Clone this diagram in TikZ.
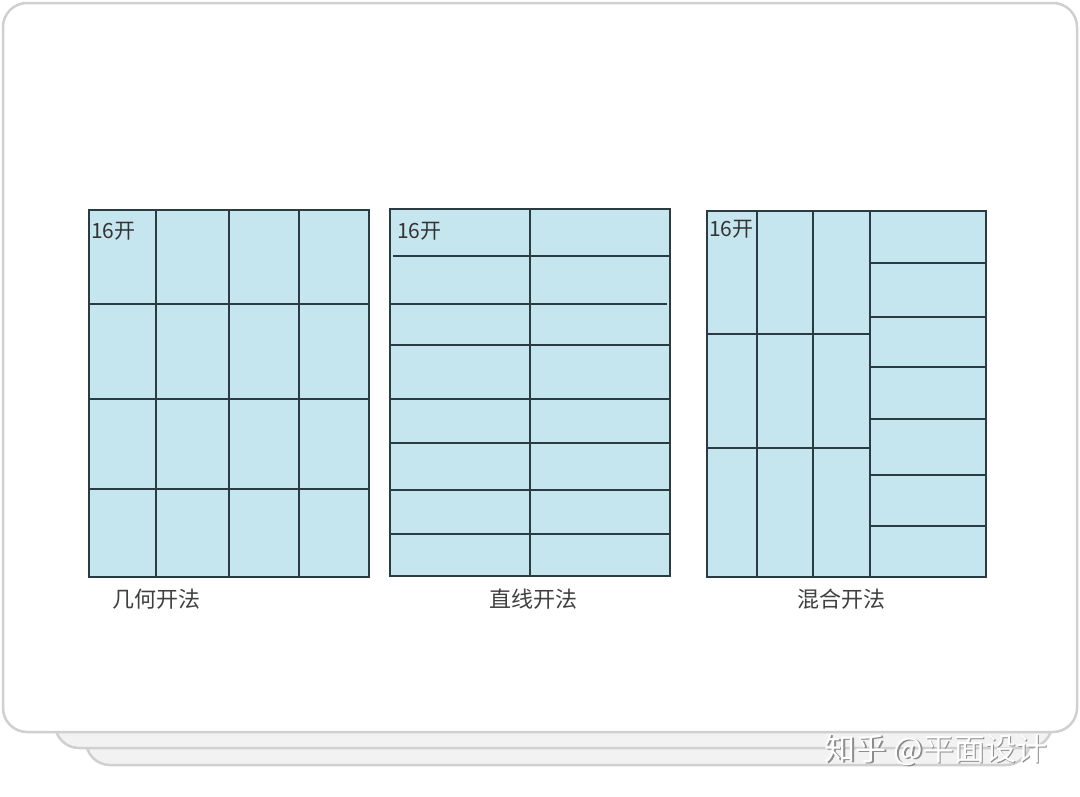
\documentclass[tikz,border=0pt]{standalone}
\usepackage{fontspec}
\setmainfont{Noto Sans CJK SC}
\usepackage{xcolor}
\definecolor{paper}{HTML}{C6E6EF}
\definecolor{cutc}{HTML}{2B3B42}
\definecolor{framec}{HTML}{D0D0D0}

\begin{document}
\begin{tikzpicture}[x=1pt,y=-1pt,
	sheet/.style={fill=paper,draw=cutc,line width=1.2pt},
	cutline/.style={draw=cutc,line width=1.2pt},
	card/.style={rounded corners=24pt,line width=2.5pt,draw=framec},
	tag/.style={font=\fontsize{21}{21}\selectfont,text=black!80,inner sep=0pt,anchor=west},
	caption/.style={font=\fontsize{22}{22}\selectfont,text=black!75,inner sep=0pt},
	stamp/.style={font=\fontsize{31}{31}\selectfont,inner sep=0pt}]
	\useasboundingbox (0,0) rectangle (1080,796);
	% stacked cards behind
	\draw[card,fill=black!5] (86,560) rectangle (1030,765);
	\draw[card,fill=black!5] (55,560) rectangle (1052,748);
	\draw[card,fill=white] (3,3) rectangle (1077,732);

	% geometric cut
	\draw[sheet] (89,210) rectangle (369,577);
	\foreach \x in {156,229,299}
		\draw[cutline] (\x,210) -- (\x,577);
	\foreach \y in {304,399,489}
		\draw[cutline] (89,\y) -- (369,\y);
	\node[tag] (geo16) at (91,231) {16开};
	\node[caption] (geolabel) at (156,599) {几何开法};

	% straight cut
	\draw[sheet] (390,209) rectangle (670,576);
	\draw[cutline] (530,209) -- (530,576);
	\draw[cutline] (393,256) -- (670,256);
	\draw[cutline] (390,304) -- (667,304);
	\foreach \y in {345,399,443,490,534}
		\draw[cutline] (391,\y) -- (670,\y);
	\node[tag] (line16) at (397,231) {16开};
	\node[caption] (linelabel) at (533,599) {直线开法};

	% mixed cut
	\draw[sheet] (707,211) rectangle (986,577);
	\foreach \x in {757,813,870}
		\draw[cutline] (\x,211) -- (\x,577);
	\foreach \y in {334,448}
		\draw[cutline] (707,\y) -- (870,\y);
	\foreach \y in {263,317,367,419,475,526}
		\draw[cutline] (870,\y) -- (986,\y);
	\node[tag] (mix16) at (709,229) {16开};
	\node[caption] (mixlabel) at (841,599) {混合开法};

	% watermark
	\node[stamp,text=black!45] (markshadow) at (937.5,751.5) {知乎 @平面设计};
	\node[stamp,text=white] (mark) at (936,750) {知乎 @平面设计};
\end{tikzpicture}
\end{document}
